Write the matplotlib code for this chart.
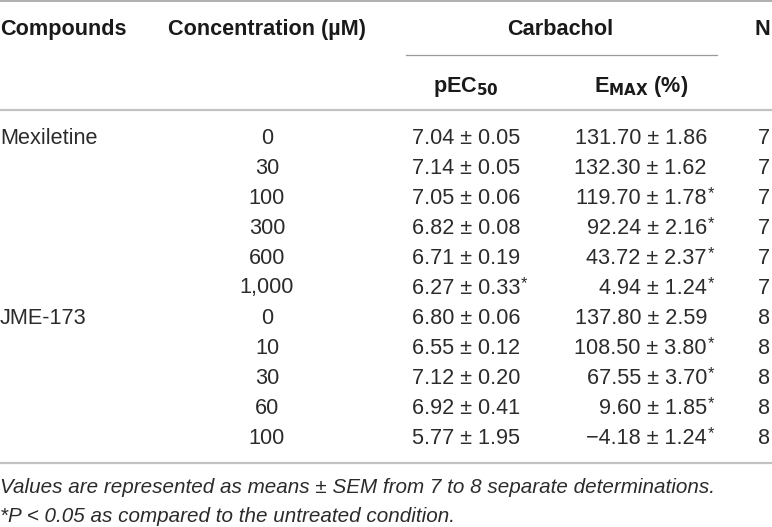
import matplotlib
matplotlib.use("Agg")
import matplotlib.pyplot as plt

# table content
compounds = ["Mexiletine", "", "", "", "", "", "JME-173", "", "", "", ""]
concentrations = ["0", "30", "100", "300", "600", "1,000", "0", "10", "30", "60", "100"]
pec50 = ["7.04 \u00b1 0.05", "7.14 \u00b1 0.05", "7.05 \u00b1 0.06", "6.82 \u00b1 0.08", "6.71 \u00b1 0.19",
         "6.27 \u00b1 0.33", "6.80 \u00b1 0.06", "6.55 \u00b1 0.12", "7.12 \u00b1 0.20", "6.92 \u00b1 0.41",
         "5.77 \u00b1 1.95"]
pec50_sig = [False, False, False, False, False, True, False, False, False, False, False]
emax = ["131.70 \u00b1 1.86", "132.30 \u00b1 1.62", "119.70 \u00b1 1.78", "92.24 \u00b1 2.16", "43.72 \u00b1 2.37",
        "4.94 \u00b1 1.24", "137.80 \u00b1 2.59", "108.50 \u00b1 3.80", "67.55 \u00b1 3.70", "9.60 \u00b1 1.85",
        "\u22124.18 \u00b1 1.24"]
emax_sig = [False, False, True, True, True, True, False, True, True, True, True]
n_values = ["7", "7", "7", "7", "7", "7", "8", "8", "8", "8", "8"]

notes = ["Values are represented as means \u00b1 SEM from 7 to 8 separate determinations.",
         "*P < 0.05 as compared to the untreated condition."]

W, H = 772, 527
fig = plt.figure(figsize=(W / 100, H / 100), dpi=100)
ax = fig.add_axes([0, 0, 1, 1])
ax.set_xlim(0, W)
ax.set_ylim(H, 0)
ax.axis("off")

plt.rcParams['font.family'] = ['Liberation Sans', 'DejaVu Sans']
fs = 15.6
txt = "#2b2b2b"
head = "#1a1a1a"

# rules (1px = 0.72pt)
ax.plot([0, W], [0.6, 0.6], color="#9a9a9a", lw=1.1)
ax.plot([406, 717], [55, 55], color="#9a9a9a", lw=0.9)
ax.plot([0, W], [109.5, 109.5], color="#c2c2c2", lw=1.6)
ax.plot([0, W], [463, 463], color="#c2c2c2", lw=1.6)

# header
hy = 35
ax.text(0, hy, "Compounds", ha="left", va="baseline", fontsize=fs, fontweight="bold", color=head)
ax.text(267, hy, "Concentration (\u00b5M)", ha="center", va="baseline", fontsize=fs, fontweight="bold", color=head)
ax.text(560, hy, "Carbachol", ha="center", va="baseline", fontsize=fs, fontweight="bold", color=head)
ax.text(770, hy, "N", ha="right", va="baseline", fontsize=fs, fontweight="bold", color=head)
ax.text(433, 92, r"pEC$_{\mathbf{50}}$", ha="left", va="baseline", fontsize=fs, fontweight="bold", color=head)
ax.text(641, 92, r"E$_{\mathbf{MAX}}$ (%)", ha="center", va="baseline", fontsize=fs, fontweight="bold", color=head)

# rows
y0, dy = 138, 30
for i in range(len(concentrations)):
    y = y0 + i * dy
    ax.text(0, y, compounds[i], ha="left", va="center", fontsize=fs, color=txt)
    ax.text(267, y, concentrations[i], ha="center", va="center", fontsize=fs, color=txt)
    ax.text(520, y, pec50[i], ha="right", va="center", fontsize=fs, color=txt)
    if pec50_sig[i]:
        ax.text(521, y - 4, "*", ha="left", va="center", fontsize=fs * 0.75, color=txt)
    ax.text(707, y, emax[i], ha="right", va="center", fontsize=fs, color=txt)
    if emax_sig[i]:
        ax.text(708, y - 4, "*", ha="left", va="center", fontsize=fs * 0.75, color=txt)
    ax.text(770, y, n_values[i], ha="right", va="center", fontsize=fs, color=txt)

# footnotes
ax.text(0, 493, notes[0], ha="left", va="baseline", fontsize=14.9, style="italic", color=txt)
ax.text(0, 522, notes[1], ha="left", va="baseline", fontsize=14.9, style="italic", color=txt)

fig.savefig("out.png", dpi=100)
